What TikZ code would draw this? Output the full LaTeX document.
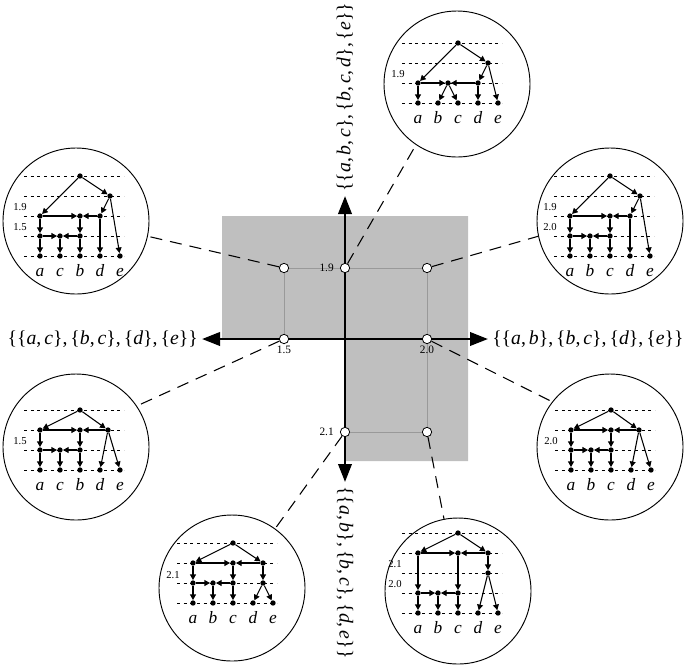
\documentclass[tikz,border=0pt]{standalone}
\usepackage{fontspec}
\setmainfont{Liberation Serif}
\usetikzlibrary{arrows.meta, positioning}

\newcommand{\sv}[1]{\textit{#1}}
\newcommand{\cma}{,\kern0.15em}

\tikzset{
  dot/.style={circle, fill, inner sep=0pt, minimum size=4pt},
  arr/.style={-{Triangle[length=4.2pt, width=4.4pt]}, line width=0.8pt},
  lvl/.style={line width=0.5pt, dash pattern=on 2.2pt off 2.8pt},
  leaf/.style={anchor=base, inner sep=0pt, font=\fontsize{13}{15}\selectfont\itshape},
  num/.style={inner sep=0.5pt, font=\fontsize{8}{10}\selectfont},
  bubble/.style={circle, draw, line width=0.7pt, inner sep=0pt, minimum size=109.5pt},
  spot/.style={circle, draw, fill=white, line width=0.6pt, inner sep=0pt, minimum size=7pt},
  link/.style={line width=0.8pt, dash pattern=on 9pt off 6pt},
  guide/.style={line width=0.5pt, black!40},
  axis/.style={line width=2pt, {Triangle[length=13.5pt, width=10pt]}-{Triangle[length=13.5pt, width=10pt]}},
  setlbl/.style={inner sep=1pt, font=\fontsize{14.8}{17}\selectfont},
}

\begin{document}
\begin{tikzpicture}[x=0.75pt, y=0.75pt]

\useasboundingbox (0,0) rectangle (691,-665);

% admissible region
\fill[black!25] (222,-216) -- (468,-216) -- (468,-461) -- (345,-461)
  -- (345,-339) -- (222,-339) -- cycle;

% axes
\coordinate (O) at (345,-339);
\coordinate (xW) at (202,-339);
\coordinate (xE) at (488,-339);
\coordinate (yN) at (345,-196);
\coordinate (yS) at (345,-482);
\draw[axis] (xW) -- (xE);
\draw[axis] (yS) -- (yN);

\node[setlbl, anchor=east] (lblW) at ([xshift=-2pt]xW)
  {\{\{\sv{a}\cma\sv{c}\}\cma\{\sv{b}\cma\sv{c}\}\cma\{\sv{d}\}\cma\{\sv{e}\}\}};
\node[setlbl, anchor=west] (lblE) at ([xshift=2pt]xE)
  {\{\{\sv{a}\cma\sv{b}\}\cma\{\sv{b}\cma\sv{c}\}\cma\{\sv{d}\}\cma\{\sv{e}\}\}};
\node[setlbl, anchor=west, rotate=90] (lblN) at ([yshift=2pt]yN)
  {\{\{\sv{a}\cma\sv{b}\cma\sv{c}\}\cma\{\sv{b}\cma\sv{c}\cma\sv{d}\}\cma\{\sv{e}\}\}};
\node[setlbl, anchor=west, rotate=-90] (lblS) at ([yshift=-2pt]yS)
  {\{\{\sv{a}\cma\sv{b}\}\cma\{\sv{b}\cma\sv{c}\}\cma\{\sv{d}\cma\sv{e}\}\}};

% sample points
\node[spot] (q1) at (284,-268) {};
\node[spot] (p19) at (345,-268) {};
\node[spot] (q2) at (427,-268) {};
\node[spot] (p15) at (284,-339) {};
\node[spot] (p20) at (427,-339) {};
\node[spot] (p21) at (345,-432) {};
\node[spot] (q3) at (427,-432) {};

\draw[guide] (q1) -- (p19);
\draw[guide] (p19) -- (q2);
\draw[guide] (q1) -- (p15);
\draw[guide] (q2) -- (p20);
\draw[guide] (p20) -- (q3);
\draw[guide] (p21) -- (q3);

\node[num, font=\fontsize{8.5}{10}\selectfont, left=4pt of p19] (n19) {1.9};
\node[num, font=\fontsize{8.5}{10}\selectfont, below=0.5pt of p15] (n15) {1.5};
\node[num, font=\fontsize{8.5}{10}\selectfont, below=0.5pt of p20] (n20) {2.0};
\node[num, font=\fontsize{8.5}{10}\selectfont, left=4pt of p21] (n21) {2.1};

% top: {{a,b,c},{b,c,d},{e}}
\node[bubble] (cT) at (457,-84) {};
\begin{scope}[shift={(458,-43)}, x=15pt, y=15pt]
  \foreach \k in {0,...,3} \draw[lvl] (-2.8,-\k) -- (2.2,-\k);
  \node[dot] (tR) at (0,0) {};
  \node[dot] (tP) at (1.5,-1) {};
  \node[dot] (tA) at (-2,-2) {};
  \node[dot] (tM) at (-0.5,-2) {};
  \node[dot] (tD) at (1,-2) {};
  \foreach \n/\x in {a/-2,b/-1,c/0,d/1,e/2} {
    \node[dot] (t\n) at (\x,-3) {};
    \node[leaf] (tl\n) at (\x,-4) {\n};
  }
  \draw[arr] (tR) -- (tP);
  \draw[arr] (tR) -- (tA);
  \draw[arr] (tP) -- (tD);
  \draw[arr] (tP) -- (te);
  \draw[arr] (tA) -- (tM);
  \draw[arr] (tD) -- (tM);
  \draw[arr] (tM) -- (tb);
  \draw[arr] (tM) -- (tc);
  \draw[arr] (tA) -- (ta);
  \draw[arr] (tD) -- (td);
  \node[num] (tn1) at (-3,-1.55) {1.9};
\end{scope}

% upper left: heights 1.9 and 1.5
\node[bubble] (cUL) at (76,-221) {};
\begin{scope}[shift={(80,-176)}, x=15pt, y=15pt]
  \foreach \k in {0,...,4} \draw[lvl] (-2.8,-\k) -- (2.2,-\k);
  \node[dot] (ulR) at (0,0) {};
  \node[dot] (ulP) at (1.5,-1) {};
  \node[dot] (ulA2) at (-2,-2) {};
  \node[dot] (ulM2) at (0,-2) {};
  \node[dot] (ulD2) at (1,-2) {};
  \node[dot] (ulA3) at (-2,-3) {};
  \node[dot] (ulM3) at (-1,-3) {};
  \node[dot] (ulB3) at (0,-3) {};
  \foreach \n/\x in {a/-2,c/-1,b/0,d/1,e/2} {
    \node[dot] (ul\n) at (\x,-4) {};
    \node[leaf] (ull\n) at (\x,-5) {\n};
  }
  \draw[arr] (ulR) -- (ulP);
  \draw[arr] (ulR) -- (ulA2);
  \draw[arr] (ulP) -- (ulD2);
  \draw[arr] (ulP) -- (ule);
  \draw[arr] (ulA2) -- (ulM2);
  \draw[arr] (ulD2) -- (ulM2);
  \draw[arr] (ulA2) -- (ulA3);
  \draw[arr] (ulM2) -- (ulB3);
  \draw[arr] (ulA3) -- (ulM3);
  \draw[arr] (ulB3) -- (ulM3);
  \draw[arr] (ulA3) -- (ula);
  \draw[arr] (ulM3) -- (ulc);
  \draw[arr] (ulB3) -- (ulb);
  \draw[arr] (ulD2) -- (uld);
  \node[num] (uln1) at (-3,-1.55) {1.9};
  \node[num] (uln2) at (-3,-2.55) {1.5};
\end{scope}

% upper right: heights 1.9 and 2.0
\node[bubble] (cUR) at (610,-221) {};
\begin{scope}[shift={(610,-176)}, x=15pt, y=15pt]
  \foreach \k in {0,...,4} \draw[lvl] (-2.8,-\k) -- (2.2,-\k);
  \node[dot] (urR) at (0,0) {};
  \node[dot] (urP) at (1.5,-1) {};
  \node[dot] (urA2) at (-2,-2) {};
  \node[dot] (urM2) at (0,-2) {};
  \node[dot] (urD2) at (1,-2) {};
  \node[dot] (urA3) at (-2,-3) {};
  \node[dot] (urM3) at (-1,-3) {};
  \node[dot] (urC3) at (0,-3) {};
  \foreach \n/\x in {a/-2,b/-1,c/0,d/1,e/2} {
    \node[dot] (ur\n) at (\x,-4) {};
    \node[leaf] (url\n) at (\x,-5) {\n};
  }
  \draw[arr] (urR) -- (urP);
  \draw[arr] (urR) -- (urA2);
  \draw[arr] (urP) -- (urD2);
  \draw[arr] (urP) -- (ure);
  \draw[arr] (urA2) -- (urM2);
  \draw[arr] (urD2) -- (urM2);
  \draw[arr] (urA2) -- (urA3);
  \draw[arr] (urM2) -- (urC3);
  \draw[arr] (urA3) -- (urM3);
  \draw[arr] (urC3) -- (urM3);
  \draw[arr] (urA3) -- (ura);
  \draw[arr] (urM3) -- (urb);
  \draw[arr] (urC3) -- (urc);
  \draw[arr] (urD2) -- (urd);
  \node[num] (urn1) at (-3,-1.55) {1.9};
  \node[num] (urn2) at (-3,-2.55) {2.0};
\end{scope}

% lower left: height 1.5
\node[bubble] (cLL) at (76,-447) {};
\begin{scope}[shift={(80,-410)}, x=15pt, y=15pt]
  \foreach \k in {0,...,3} \draw[lvl] (-2.8,-\k) -- (2.2,-\k);
  \node[dot] (llR) at (0,0) {};
  \node[dot] (llA1) at (-2,-1) {};
  \node[dot] (llM1) at (0,-1) {};
  \node[dot] (llD1) at (1.4,-1) {};
  \node[dot] (llA2) at (-2,-2) {};
  \node[dot] (llM2) at (-1,-2) {};
  \node[dot] (llB2) at (0,-2) {};
  \foreach \n/\x in {a/-2,c/-1,b/0,d/1,e/2} {
    \node[dot] (ll\n) at (\x,-3) {};
    \node[leaf] (lll\n) at (\x,-4) {\n};
  }
  \draw[arr] (llR) -- (llA1);
  \draw[arr] (llR) -- (llD1);
  \draw[arr] (llA1) -- (llM1);
  \draw[arr] (llD1) -- (llM1);
  \draw[arr] (llA1) -- (llA2);
  \draw[arr] (llM1) -- (llB2);
  \draw[arr] (llA2) -- (llM2);
  \draw[arr] (llB2) -- (llM2);
  \draw[arr] (llA2) -- (lla);
  \draw[arr] (llM2) -- (llc);
  \draw[arr] (llB2) -- (llb);
  \draw[arr] (llD1) -- (lld);
  \draw[arr] (llD1) -- (lle);
  \node[num] (lln1) at (-3,-1.55) {1.5};
\end{scope}

% lower right: height 2.0
\node[bubble] (cLR) at (610,-447) {};
\begin{scope}[shift={(611,-410)}, x=15pt, y=15pt]
  \foreach \k in {0,...,3} \draw[lvl] (-2.8,-\k) -- (2.2,-\k);
  \node[dot] (lrR) at (0,0) {};
  \node[dot] (lrA1) at (-2,-1) {};
  \node[dot] (lrM1) at (0,-1) {};
  \node[dot] (lrD1) at (1.4,-1) {};
  \node[dot] (lrA2) at (-2,-2) {};
  \node[dot] (lrM2) at (-1,-2) {};
  \node[dot] (lrC2) at (0,-2) {};
  \foreach \n/\x in {a/-2,b/-1,c/0,d/1,e/2} {
    \node[dot] (lr\n) at (\x,-3) {};
    \node[leaf] (lrl\n) at (\x,-4) {\n};
  }
  \draw[arr] (lrR) -- (lrA1);
  \draw[arr] (lrR) -- (lrD1);
  \draw[arr] (lrA1) -- (lrM1);
  \draw[arr] (lrD1) -- (lrM1);
  \draw[arr] (lrA1) -- (lrA2);
  \draw[arr] (lrM1) -- (lrC2);
  \draw[arr] (lrA2) -- (lrM2);
  \draw[arr] (lrC2) -- (lrM2);
  \draw[arr] (lrA2) -- (lra);
  \draw[arr] (lrM2) -- (lrb);
  \draw[arr] (lrC2) -- (lrc);
  \draw[arr] (lrD1) -- (lrd);
  \draw[arr] (lrD1) -- (lre);
  \node[num] (lrn1) at (-3,-1.55) {2.0};
\end{scope}

% bottom left: height 2.1
\node[bubble] (cBL) at (232,-588) {};
\begin{scope}[shift={(233,-543)}, x=15pt, y=15pt]
  \foreach \k in {0,...,3} \draw[lvl] (-2.8,-\k) -- (2.2,-\k);
  \node[dot] (blR) at (0,0) {};
  \node[dot] (blA1) at (-2,-1) {};
  \node[dot] (blM1) at (0,-1) {};
  \node[dot] (blD1) at (1.5,-1) {};
  \node[dot] (blA2) at (-2,-2) {};
  \node[dot] (blM2) at (-1,-2) {};
  \node[dot] (blC2) at (0,-2) {};
  \node[dot] (blD2) at (1.5,-2) {};
  \foreach \n/\x in {a/-2,b/-1,c/0,d/1,e/2} {
    \node[dot] (bl\n) at (\x,-3) {};
    \node[leaf] (bll\n) at (\x,-4) {\n};
  }
  \draw[arr] (blR) -- (blA1);
  \draw[arr] (blR) -- (blD1);
  \draw[arr] (blA1) -- (blM1);
  \draw[arr] (blD1) -- (blM1);
  \draw[arr] (blA1) -- (blA2);
  \draw[arr] (blM1) -- (blC2);
  \draw[arr] (blD1) -- (blD2);
  \draw[arr] (blA2) -- (blM2);
  \draw[arr] (blC2) -- (blM2);
  \draw[arr] (blA2) -- (bla);
  \draw[arr] (blM2) -- (blb);
  \draw[arr] (blC2) -- (blc);
  \draw[arr] (blD2) -- (bld);
  \draw[arr] (blD2) -- (ble);
  \node[num] (bln1) at (-3,-1.6) {2.1};
\end{scope}

% bottom right: heights 2.1 and 2.0
\node[bubble] (cBR) at (458,-591) {};
\begin{scope}[shift={(458,-533)}, x=15pt, y=15pt]
  \foreach \k in {0,...,4} \draw[lvl] (-2.8,-\k) -- (2.2,-\k);
  \node[dot] (brR) at (0,0) {};
  \node[dot] (brA1) at (-2,-1) {};
  \node[dot] (brM1) at (0,-1) {};
  \node[dot] (brD1) at (1.5,-1) {};
  \node[dot] (brD2) at (1.5,-2) {};
  \node[dot] (brA3) at (-2,-3) {};
  \node[dot] (brM3) at (-1,-3) {};
  \node[dot] (brC3) at (0,-3) {};
  \foreach \n/\x in {a/-2,b/-1,c/0,d/1,e/2} {
    \node[dot] (br\n) at (\x,-4) {};
    \node[leaf] (brl\n) at (\x,-5) {\n};
  }
  \draw[arr] (brR) -- (brA1);
  \draw[arr] (brR) -- (brD1);
  \draw[arr] (brA1) -- (brM1);
  \draw[arr] (brD1) -- (brM1);
  \draw[arr] (brD1) -- (brD2);
  \draw[arr] (brA1) -- (brA3);
  \draw[arr] (brM1) -- (brC3);
  \draw[arr] (brA3) -- (brM3);
  \draw[arr] (brC3) -- (brM3);
  \draw[arr] (brA3) -- (bra);
  \draw[arr] (brM3) -- (brb);
  \draw[arr] (brC3) -- (brc);
  \draw[arr] (brD2) -- (brd);
  \draw[arr] (brD2) -- (bre);
  \node[num] (brn1) at (-3.15,-1.55) {2.1};
  \node[num] (brn2) at (-3.15,-2.55) {2.0};
\end{scope}

% dashed links from the points to their trees
\draw[link] (q1) -- (cUL.-12);
\draw[link] (p19) -- (cT.-124);
\draw[link] (q2) -- (cUR.192);
\draw[link] (p15) -- (cLL.34);
\draw[link] (p20) -- (cLR.142);
\draw[link] (p21) -- (cBL.54);
\draw[link] (q3) -- (cBR.101);

\end{tikzpicture}
\end{document}
